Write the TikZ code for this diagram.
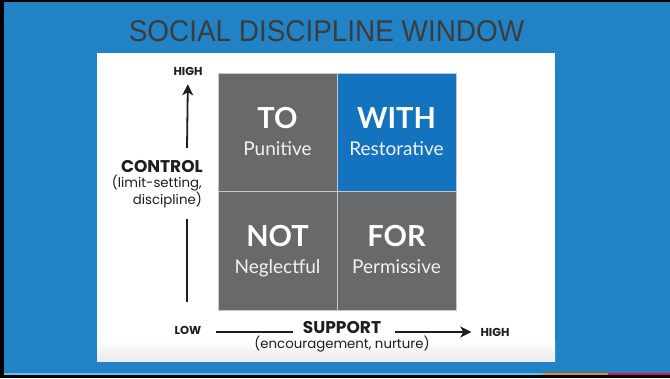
\documentclass[tikz,border=0pt]{standalone}
\usepackage{fontspec}
\setmainfont{Lato}
\newfontfamily\headfont{Liberation Sans}
\newfontfamily\axisfont{Poppins}
\usetikzlibrary{arrows.meta}
\usetikzlibrary{positioning}

\definecolor{slideblue}{RGB}{33,131,198}
\definecolor{cellblue}{RGB}{20,115,190}
\definecolor{cellgray}{RGB}{104,105,107}
\definecolor{cellline}{RGB}{200,200,200}
\definecolor{titlegray}{RGB}{60,60,60}
\definecolor{axisink}{RGB}{30,30,30}
\definecolor{stripeblue}{RGB}{110,190,235}
\definecolor{stripeorange}{RGB}{240,140,20}
\definecolor{stripered}{RGB}{220,20,80}

\begin{document}
\begin{tikzpicture}[x=1pt,y=-1pt,>={Stealth[length=11pt,width=11pt,inset=3pt]},
  cell/.style={rectangle,draw=cellline,line width=1pt,fill=cellgray,
    minimum width=119pt,minimum height=118.5pt,inner sep=0pt,outer sep=0pt},
  word/.style={anchor=base,text=white,font=\fontsize{29}{30}\selectfont\bfseries},
  kind/.style={anchor=base,text=white!90!gray,font=\fontsize{19}{20}\selectfont},
  axis/.style={line width=1.8pt,draw=axisink},
  end label/.style={text=axisink,inner sep=0pt,font=\axisfont\fontsize{11.5}{12}\selectfont\bfseries},
  axis name/.style={text=axisink,inner sep=0pt,font=\axisfont\fontsize{17}{18}\selectfont\bfseries},
  axis note/.style={text=axisink,inner sep=0pt,font=\axisfont\fontsize{13.3}{17}\selectfont}]

  % slide background
  \useasboundingbox (0,0) rectangle (670,378);
  \fill[black] (0,0) rectangle (670,378);
  \fill[slideblue] (4,2) rectangle (670,372.5);
  \fill[stripeblue] (4,372.5) rectangle (543,375.3);
  \fill[stripeorange] (543,372.5) rectangle (608,375.3);
  \fill[stripered] (608,372.5) rectangle (670,375.3);

  \node[font=\headfont\fontsize{30}{32}\selectfont,text=titlegray] (title) at (326.5,31)
    {\scalebox{0.93}[1]{SOCIAL DISCIPLINE WINDOW}};

  % white panel
  \fill[white] (97,53) rectangle (555,361);
  \shade[top color=white,bottom color=black!8] (97,340) rectangle (555,361);

  % the four windows
  \node[cell] (to) at (277.5,132.25) {};
  \node[cell,fill=cellblue] (with) [right=0pt of to] {};
  \node[cell] (not) [below=0pt of to] {};
  \node[cell] (for) [below=0pt of with] {};

  \node[word] (toa) at ([yshift=4pt]to.center) {TO};
  \node[kind] (tob) at ([yshift=-23pt]to.center) {Punitive};
  \node[word] (witha) at ([yshift=4pt]with.center) {WITH};
  \node[kind] (withb) at ([yshift=-23pt]with.center) {Restorative};
  \node[word] (nota) at ([yshift=4pt]not.center) {NOT};
  \node[kind] (notb) at ([yshift=-23pt]not.center) {Neglectful};
  \node[word] (fora) at ([yshift=4pt]for.center) {FOR};
  \node[kind] (forb) at ([yshift=-23pt]for.center) {Permissive};

  % control axis
  \node[end label] (hightop) at (188,71) {HIGH};
  \node[axis name,anchor=east] (control) at (203,167) {CONTROL};
  \node[axis note,anchor=north east,align=right] (controlnote) at (202,174.5) {(limit-setting,\\discipline)};
  \coordinate (vup) at (187,148);
  \coordinate (vlow) at (187,219);
  \coordinate (vbot) at (187,302);
  \draw[axis,->] (vup) -- (hightop) [shorten >=9pt];
  \draw[axis] (vlow) -- (vbot);

  % support axis
  \node[end label] (low) at (188,330) {LOW};
  \node[axis name] (support) at (342,327.7) {SUPPORT};
  \node[axis note] (supportnote) at (342,344) {(encouragement, nurture)};
  \node[end label] (highright) at (495,332) {HIGH};
  \coordinate (hleft) at (216,332);
  \coordinate (hmid) at (293,332);
  \coordinate (hright) at (395,332);
  \draw[axis] (hleft) -- (hmid);
  \draw[axis,->] (hright) -- (highright) [shorten >=9pt];

\end{tikzpicture}
\end{document}
